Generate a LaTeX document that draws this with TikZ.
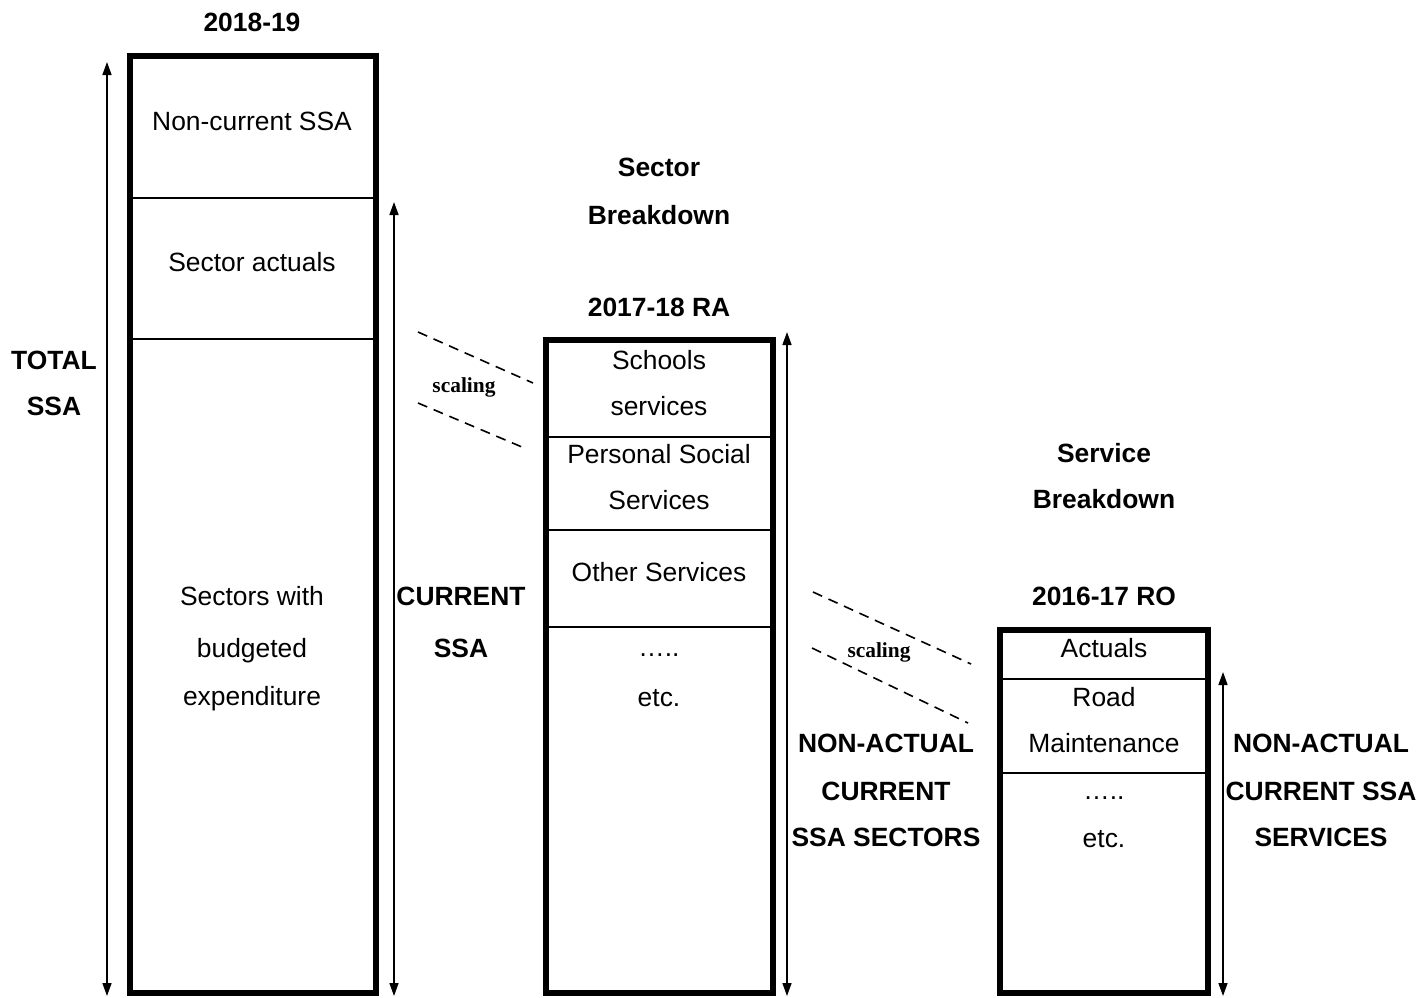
\documentclass[tikz,border=0pt]{standalone}
\usepackage{fontspec}
\setmainfont{Liberation Sans}
\newfontfamily\serifbold{Liberation Serif}
\usetikzlibrary{arrows.meta}
\begin{document}
\begin{tikzpicture}[x=1pt,y=-1pt,
  every node/.style={inner sep=0pt,outer sep=0pt,font=\fontsize{26.4}{30}\selectfont},
  txt/.style={anchor=base},
  btxt/.style={anchor=base,font=\fontsize{26.4}{30}\selectfont\bfseries},
  scl/.style={anchor=base,font=\fontsize{21.4}{24}\selectfont\serifbold\bfseries},
  col/.style={draw,line width=6pt},
  sep/.style={line width=2.2pt},
  dim/.style={line width=1.5pt,{Triangle[length=13pt,width=9pt]}-{Triangle[length=13pt,width=9pt]}},
  dsh/.style={line width=1.6pt,dash pattern=on 10pt off 7pt}]
\useasboundingbox (0,0) rectangle (1420,997);
% columns
\node[col,minimum width=246pt,minimum height=937pt] (c1) at (253,524.5) {};
\node[col,minimum width=227pt,minimum height=653pt] (c2) at (659,666.75) {};
\node[col,minimum width=208pt,minimum height=363pt] (c3) at (1104,811.5) {};
% separators column 1
\draw[sep] (c1.west |- 0,198) coordinate (s1a) -- (c1.east |- 0,198) coordinate (s1b);
\draw[sep] (c1.west |- 0,339) coordinate (s2a) -- (c1.east |- 0,339) coordinate (s2b);
% separators column 2
\draw[sep] (c2.west |- 0,437) coordinate (s3a) -- (c2.east |- 0,437) coordinate (s3b);
\draw[sep] (c2.west |- 0,530) coordinate (s4a) -- (c2.east |- 0,530) coordinate (s4b);
\draw[sep] (c2.west |- 0,627) coordinate (s5a) -- (c2.east |- 0,627) coordinate (s5b);
% separators column 3
\draw[sep] (c3.west |- 0,679) coordinate (s6a) -- (c3.east |- 0,679) coordinate (s6b);
\draw[sep] (c3.west |- 0,773) coordinate (s7a) -- (c3.east |- 0,773) coordinate (s7b);
% dimension arrows
\coordinate (a1t) at (107,62); \coordinate (a1b) at (107,996);
\coordinate (a2t) at (394,202); \coordinate (a2b) at (394,996);
\coordinate (a3t) at (787,332); \coordinate (a3b) at (787,996);
\coordinate (a4t) at (1223,672); \coordinate (a4b) at (1223,996);
\draw[dim] (a1t) -- (a1b);
\draw[dim] (a2t) -- (a2b);
\draw[dim] (a3t) -- (a3b);
\draw[dim] (a4t) -- (a4b);
% scaling dashes
\coordinate (d1a) at (418,332); \coordinate (d1b) at (533,383);
\coordinate (d2a) at (418,403); \coordinate (d2b) at (522,447);
\coordinate (d3a) at (813,592); \coordinate (d3b) at (971,664);
\coordinate (d4a) at (812,648); \coordinate (d4b) at (968,723);
\draw[dsh] (d1a) -- (d1b);
\draw[dsh] (d2a) -- (d2b);
\draw[dsh] (d3a) -- (d3b);
\draw[dsh] (d4a) -- (d4b);
\node[scl] (sc1) at (464,392) {scaling};
\node[scl] (sc2) at (879,657) {scaling};
% column 1 texts
\node[btxt] (h1) at (252,31.5) {2018-19};
\node[txt] (t1) at (252,130.5) {Non-current SSA};
\node[txt] (t2) at (252,271.5) {Sector actuals};
\node[txt] (t3a) at (252,605.5) {Sectors with};
\node[txt] (t3b) at (252,657.5) {budgeted};
\node[txt] (t3c) at (252,705.5) {expenditure};
\node[btxt] (l1a) at (54,369.5) {TOTAL};
\node[btxt] (l1b) at (54,415.5) {SSA};
\node[btxt] (l2a) at (461,605.5) {CURRENT};
\node[btxt] (l2b) at (461,657.5) {SSA};
% column 2 texts
\node[btxt] (h2a) at (659,176.5) {Sector};
\node[btxt] (h2b) at (659,224.5) {Breakdown};
\node[btxt] (h2c) at (659,316.5) {2017-18 RA};
\node[txt] (u1a) at (659,369.5) {Schools};
\node[txt] (u1b) at (659,415.5) {services};
\node[txt] (u2a) at (659,463.5) {Personal Social};
\node[txt] (u2b) at (659,509.5) {Services};
\node[txt] (u3) at (659,581.5) {Other Services};
\node[txt] (u4a) at (659,656) {…..};
\node[txt] (u4b) at (659,706.5) {etc.};
\node[btxt] (l3a) at (886,752.5) {NON-ACTUAL};
\node[btxt] (l3b) at (886,800.5) {CURRENT};
\node[btxt] (l3c) at (886,846.5) {SSA SECTORS};
% column 3 texts
\node[btxt] (h3a) at (1104,462.5) {Service};
\node[btxt] (h3b) at (1104,508.5) {Breakdown};
\node[btxt] (h3c) at (1104,605.5) {2016-17 RO};
\node[txt] (v1) at (1104,657.5) {Actuals};
\node[txt] (v2a) at (1104,706.5) {Road};
\node[txt] (v2b) at (1104,752.5) {Maintenance};
\node[txt] (v3a) at (1104,799) {…..};
\node[txt] (v3b) at (1104,847.5) {etc.};
\node[btxt] (l4a) at (1321,752.5) {NON-ACTUAL};
\node[btxt] (l4b) at (1321,800.5) {CURRENT SSA};
\node[btxt] (l4c) at (1321,846.5) {SERVICES};
\end{tikzpicture}
\end{document}
